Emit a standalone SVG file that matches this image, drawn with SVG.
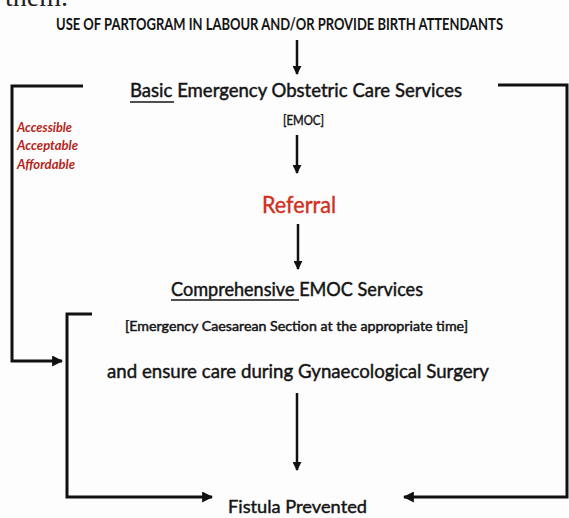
<svg xmlns="http://www.w3.org/2000/svg" width="569" height="518" viewBox="0 0 569 518">
<defs>
<style>
.t{font-family:Lato,"Open Sans","Liberation Sans",sans-serif;fill:#141414}
.b{font-weight:bold}
.m{stroke:#141414;stroke-width:0.45}
.red{fill:#d0301f;stroke:#d0301f;stroke-width:0.4}
.side{font-family:Lato,"Open Sans","Liberation Sans",sans-serif;font-weight:bold;font-style:italic;fill:#b8231a;font-size:12.5px}
.br{fill:none;stroke:#111;stroke-width:3;stroke-linejoin:miter}
.ar{fill:none;stroke:#111;stroke-width:2.5}
.ul{stroke:#141414;stroke-width:1.6}
</style>
<marker id="ah" viewBox="0 0 10 10" refX="9" refY="5" markerWidth="9" markerHeight="9" markerUnits="userSpaceOnUse" orient="auto">
<path d="M0,0 L10,5 L0,10 z" fill="#111"/>
</marker>
<marker id="ahb" viewBox="0 0 10 10" refX="9" refY="5" markerWidth="11" markerHeight="11" markerUnits="userSpaceOnUse" orient="auto">
<path d="M0,0 L10,5 L0,10 z" fill="#111"/>
</marker>
</defs>
<rect width="569" height="518" fill="#fdfdfd"/>
<text x="5" y="6" font-family="'Liberation Serif',serif" font-size="28" fill="#222">them.</text>

<g id="title"><text class="t b" x="56" y="30" font-size="17" textLength="447" lengthAdjust="spacingAndGlyphs">USE OF PARTOGRAM IN  LABOUR AND/OR PROVIDE BIRTH ATTENDANTS</text></g>

<g id="basic">
<text class="t m" x="130" y="97" font-size="19" textLength="332" lengthAdjust="spacingAndGlyphs">Basic Emergency Obstetric Care Services</text>
<line class="ul" x1="130" y1="102" x2="174" y2="102"/>
<text class="t m" x="283" y="125" font-size="14" textLength="41" lengthAdjust="spacingAndGlyphs">[EMOC]</text>
</g>

<g id="side">
<text class="side" x="17" y="132" textLength="55" lengthAdjust="spacingAndGlyphs">Accessible</text>
<text class="side" x="17" y="150" textLength="61" lengthAdjust="spacingAndGlyphs">Acceptable</text>
<text class="side" x="17" y="169" textLength="58" lengthAdjust="spacingAndGlyphs">Affordable</text>
</g>

<g id="referral"><text class="t red" x="262" y="213" font-size="24" textLength="74" lengthAdjust="spacingAndGlyphs">Referral</text></g>

<g id="comprehensive">
<text class="t m" x="171" y="296" font-size="19" textLength="252" lengthAdjust="spacingAndGlyphs">Comprehensive EMOC Services</text>
<line class="ul" x1="171" y1="300" x2="299" y2="300"/>
<text class="t m" x="125" y="331" font-size="13" textLength="343" lengthAdjust="spacingAndGlyphs">[Emergency Caesarean Section at the appropriate time]</text>
<text class="t m" x="107" y="378" font-size="20" textLength="382" lengthAdjust="spacingAndGlyphs">and ensure care during Gynaecological Surgery</text>
</g>

<g id="fistula"><text class="t m" x="228" y="513" font-size="18" textLength="139" lengthAdjust="spacingAndGlyphs">Fistula Prevented</text></g>

<g id="connectors">
<line class="ar" x1="297" y1="40" x2="297" y2="74" marker-end="url(#ah)"/>
<line class="ar" x1="297" y1="135" x2="297" y2="173" marker-end="url(#ah)"/>
<line class="ar" x1="298" y1="224" x2="298" y2="269" marker-end="url(#ah)"/>
<line class="ar" x1="297" y1="393" x2="297" y2="470" marker-end="url(#ah)"/>
<polyline class="br" points="83,86 12,86 12,361 62,361" marker-end="url(#ahb)"/>
<polyline class="br" points="498,85 567,85 567,497 404,497" marker-end="url(#ahb)"/>
<polyline class="br" points="92,314 67,314 67,497 212,497" marker-end="url(#ahb)"/>
</g>
</svg>
